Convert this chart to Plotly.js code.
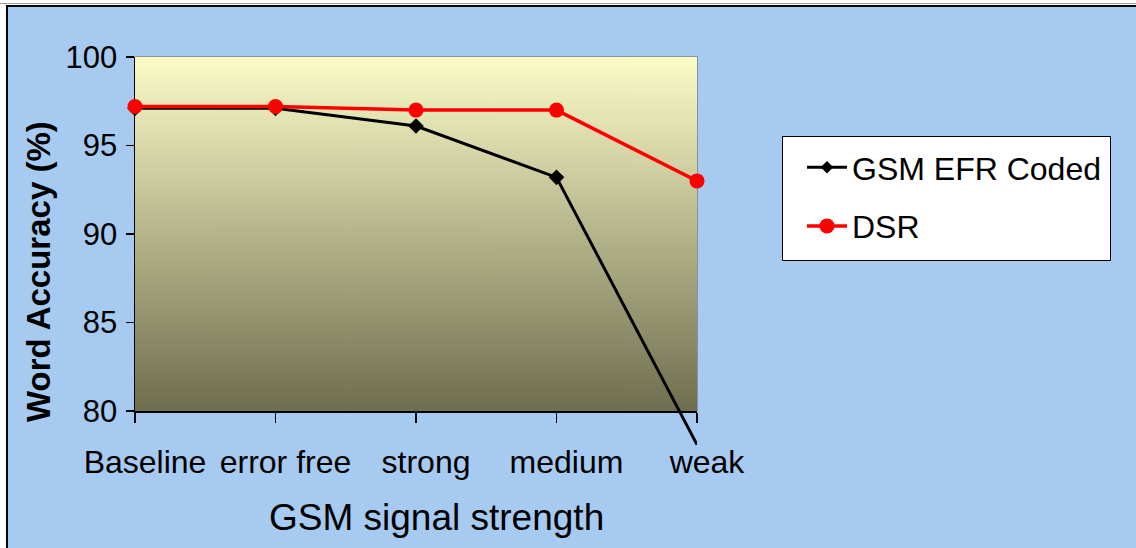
<!DOCTYPE html>
<html>
<head>
<meta charset="utf-8">
<script src="https://cdn.plot.ly/plotly-3.0.1.min.js"></script>
<style>html,body{margin:0;padding:0;background:#fff;}#chart{width:1136px;height:548px;}</style>
</head>
<body>
<div id="chart"></div>
<script>
// ---- data ----
const categories = ["Baseline", "error free", "strong", "medium", "weak"];
const gsmEfrCoded = [97.1, 97.1, 96.1, 93.2, 78.1];
const dsr = [97.2, 97.2, 97.0, 97.0, 93.0];
const yTickValues = [80, 85, 90, 95, 100];
const seriesNames = ["GSM EFR Coded", "DSR"];
const xTitle = "GSM signal strength";
const yTitle = "Word Accuracy (%)";

// ---- geometry helpers (pixels -> paper) ----
const W = 1136, H = 548;
const L = 135, R = 697, T = 57, AXB = 411, PB = 460;
const px2x = p => (p - L) / (R - L);
const py2y = p => (PB - p) / (PB - T);
const pxPerUnit = (AXB - T) / 20;

// gradient image for plot area
const cv = document.createElement('canvas');
cv.width = 4; cv.height = 256;
const ctx = cv.getContext('2d');
const g = ctx.createLinearGradient(0, 0, 0, 256);
g.addColorStop(0, '#fcfcc8');
g.addColorStop(1, '#6e6e50');
ctx.fillStyle = g; ctx.fillRect(0, 0, 4, 256);
const gradURL = cv.toDataURL();

const FONT = 'Arial, "Liberation Sans", sans-serif';

// markers hidden for points that fall outside the plotting area (as in the original)
const gsmMarkerSizes = gsmEfrCoded.map(v => (v < 80 ? 0 : 12));

const traces = [
  {
    x: categories, y: gsmEfrCoded, name: seriesNames[0], type: 'scatter', mode: 'lines+markers',
    xaxis: 'x', yaxis: 'y2', legendgroup: 'a', cliponaxis: false,
    line: {color: '#000000', width: 3},
    marker: {symbol: 'diamond', size: gsmMarkerSizes, color: '#000000', opacity: 1, line: {width: 0}}
  },
  {
    x: categories, y: dsr, name: seriesNames[1], type: 'scatter', mode: 'lines+markers',
    xaxis: 'x', yaxis: 'y2', legendgroup: 'b', cliponaxis: false,
    line: {color: '#ff0000', width: 3.5},
    marker: {symbol: 'circle', size: 15, color: '#ff0000', opacity: 1, line: {width: 0}}
  }
];

const layout = {
  width: W, height: H,
  margin: {l: L, r: W - R, t: T, b: H - PB, pad: 0},
  paper_bgcolor: '#ffffff',
  plot_bgcolor: 'rgba(0,0,0,0)',
  font: {family: FONT, color: '#000000', size: 32},
  showlegend: true,
  xaxis: {
    type: 'category', range: [0, 4], anchor: 'y',
    showline: true, linecolor: '#000000', linewidth: 1.5,
    ticks: 'outside', ticklen: 10, tickcolor: '#000000', tickwidth: 1.5,
    showgrid: false, zeroline: false,
    tickfont: {family: FONT, size: 32, color: '#000000'},
    ticklabelstandoff: 12, ticklabelshift: 10, fixedrange: true
  },
  yaxis: {
    domain: [py2y(AXB), 1], range: [80, 100], anchor: 'x',
    tickvals: yTickValues,
    showline: true, linecolor: '#000000', linewidth: 1.5,
    ticks: 'outside', ticklen: 8, tickcolor: '#000000', tickwidth: 1.5,
    showgrid: false, zeroline: false,
    tickfont: {family: FONT, size: 31, color: '#000000'},
    ticklabelstandoff: 2, fixedrange: true
  },
  yaxis2: {
    domain: [0, 1], range: [100 - (PB - T) / pxPerUnit, 100], anchor: 'x',
    visible: false, showgrid: false, zeroline: false, fixedrange: true
  },
  legend: {
    x: px2x(802), y: py2y(140), xanchor: 'left', yanchor: 'top',
    bgcolor: 'rgba(0,0,0,0)', borderwidth: 0,
    font: {family: FONT, size: 32, color: '#000000'},
    tracegroupgap: 14, itemwidth: 40
  },
  images: [{
    source: gradURL, xref: 'x', yref: 'y', x: 0, y: 100, sizex: 4, sizey: 20,
    xanchor: 'left', yanchor: 'top', sizing: 'stretch', layer: 'below'
  }],
  shapes: [
    {type: 'rect', xref: 'paper', yref: 'paper', layer: 'below',
     x0: px2x(7), x1: px2x(1200), y0: py2y(600), y1: py2y(6),
     fillcolor: '#a6caf0', line: {color: '#000000', width: 2}},
    {type: 'line', xref: 'paper', yref: 'paper', layer: 'below',
     x0: px2x(0), x1: px2x(1136), y0: py2y(3.5), y1: py2y(3.5),
     line: {color: '#a0a0a0', width: 1}},
    {type: 'path', xref: 'paper', yref: 'paper', layer: 'below',
     path: `M 0,1 L 1,1 L 1,${py2y(AXB)}`,
     line: {color: '#808080', width: 1.5}},
    {type: 'rect', xref: 'paper', yref: 'paper', layer: 'below',
     x0: px2x(782.5), x1: px2x(1110.5), y0: py2y(260.5), y1: py2y(136.5),
     fillcolor: '#ffffff', line: {color: '#000000', width: 1}}
  ],
  annotations: [
    {text: yTitle, xref: 'paper', yref: 'paper', x: px2x(38), y: py2y(272),
     xanchor: 'center', yanchor: 'middle', textangle: -90, showarrow: false,
     font: {family: FONT, size: 33, color: '#000000', weight: 'bold'}},
    {text: xTitle, xref: 'paper', yref: 'paper', x: px2x(436), y: py2y(517),
     xanchor: 'center', yanchor: 'middle', showarrow: false,
     font: {family: FONT, size: 37, color: '#000000'}}
  ]
};

Plotly.newPlot('chart', traces, layout, {displayModeBar: false, staticPlot: true});
</script>
</body>
</html>
